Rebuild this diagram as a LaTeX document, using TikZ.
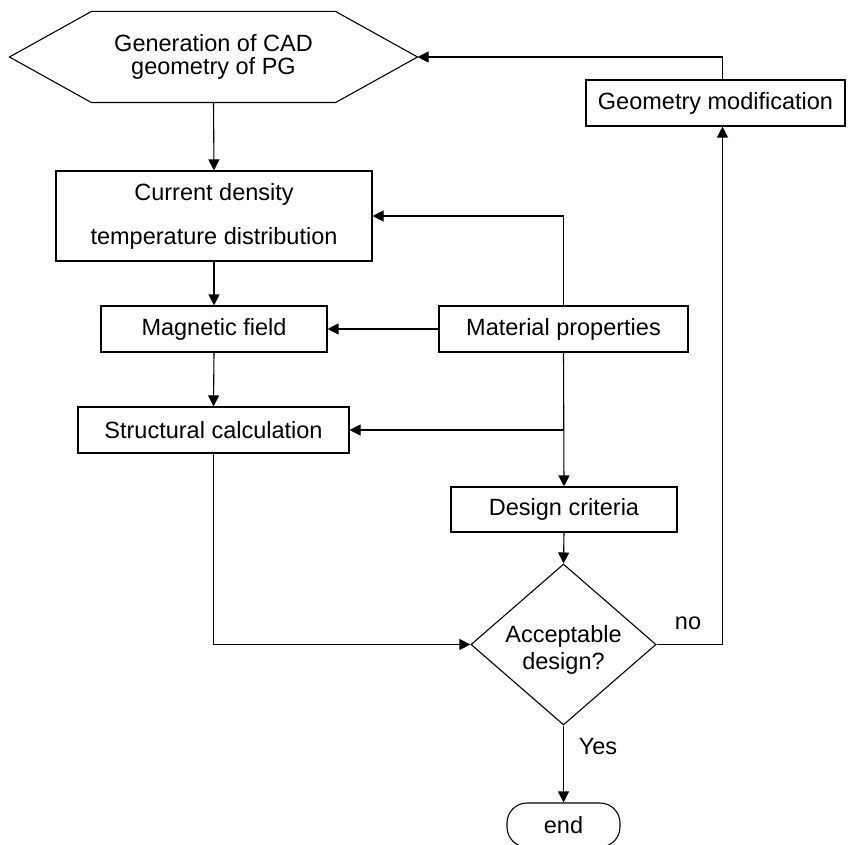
\documentclass[tikz,border=0pt]{standalone}
\usepackage{fontspec}
\setmainfont{Liberation Sans}
\usepackage{tikz}
\usetikzlibrary{shapes.geometric, arrows.meta, positioning, calc}

\begin{document}
\begin{tikzpicture}[
    x=1pt, y=-1pt,
    font=\fontsize{23.5}{27}\selectfont,
    box/.style={draw, line width=1.1pt, align=center, inner sep=0pt},
    decision/.style={draw, diamond, line width=1.1pt, align=center, inner sep=0pt, aspect=1.15, minimum width=180pt, minimum height=157pt},
    arrow/.style={-{Triangle[length=11pt, width=11pt]}, line width=1.1pt}
]
\useasboundingbox (0,0) rectangle (848,845);

\node[box, draw=none, minimum width=243pt, minimum height=90pt, font=\fontsize{23.5}{23.5}\selectfont] (gen) at (213.5,57) {Generation of CAD\\geometry of PG};
\draw[line width=1.1pt] (gen.north west) -- ($(gen.west)+(-82,0)$) -- (gen.south west) -- (gen.south east) -- ($(gen.east)+(82,0)$) coordinate (gentip) -- (gen.north east) -- cycle;

\node[box, minimum width=259pt, minimum height=46pt] (geomod) at (715.5,103) {Geometry modification};
\node[box, minimum width=316pt, minimum height=90pt] (current) at (214,216) {Current density\\[17pt]temperature distribution};
\node[box, minimum width=226pt, minimum height=46pt] (magnetic) at (214,329) {Magnetic field};
\node[box, minimum width=249pt, minimum height=46pt] (material) at (563.5,329) {Material properties};
\node[box, minimum width=271pt, minimum height=46pt] (structural) at (213.5,430) {Structural calculation};
\node[box, minimum width=226pt, minimum height=45pt] (criteria) at (564,509.5) {Design criteria};
\node[decision] (accept) at (563.5,644.5) {\rule{0pt}{28pt}Acceptable\\design?};
\node[box, rounded corners=20pt, minimum width=113pt, minimum height=44pt] (finish) at (563.5,825) {end};

\node (no) at (688,623) {no};
\node (yes) at (598,747) {Yes};

\draw[arrow] (gen.south) -- (current.north);
\draw[arrow] (current.south) -- (magnetic.north);
\draw[arrow] (magnetic.south) -- (structural.north);
\draw[arrow] (material.north) |- (current.east);
\draw[arrow] (material.west) -- (magnetic.east);
\draw[arrow] (material.south) -- (criteria.north);
\draw[arrow] (material.south |- structural.east) -- (structural.east);
\draw[arrow] (criteria.south) -- (accept.north);
\draw[arrow] (structural.south) |- (accept.west);
\draw[arrow] (accept.east) -| ([xshift=7pt]geomod.south);
\draw[arrow] ([xshift=7pt]geomod.north) |- (gentip);
\draw[arrow] (accept.south) -- (finish.north);

\end{tikzpicture}
\end{document}
